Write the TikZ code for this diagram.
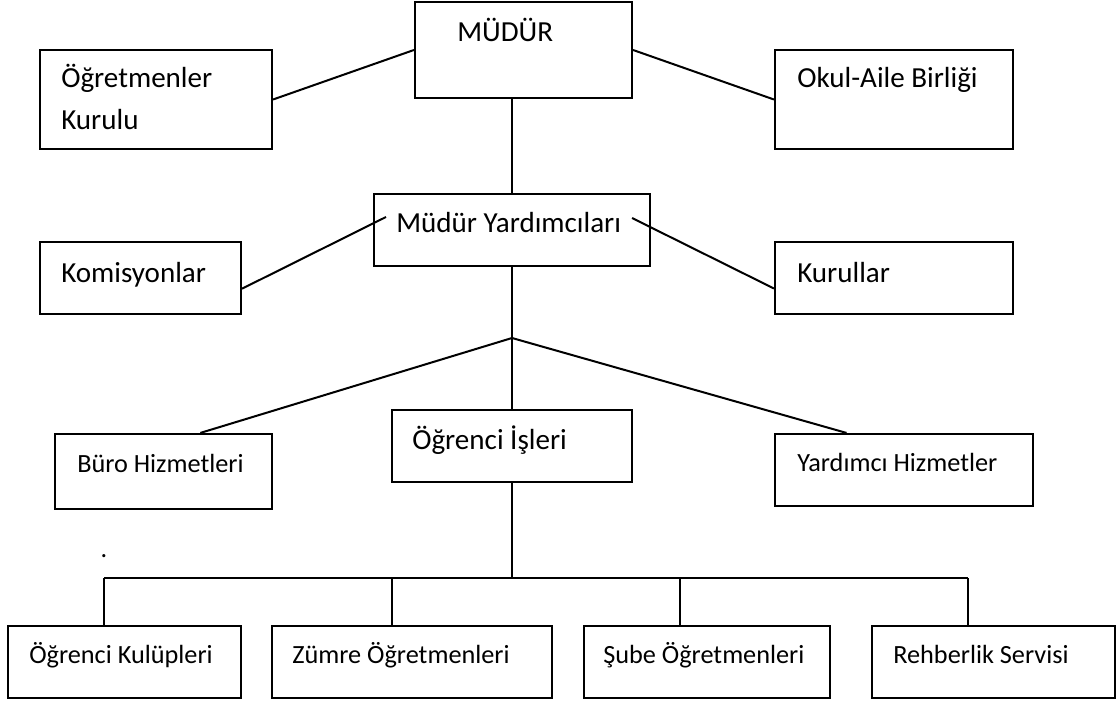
\documentclass[tikz,border=0pt]{standalone}
\usepackage{fontspec}
\setmainfont{Carlito}
\usetikzlibrary{calc}
\begin{document}
\begin{tikzpicture}[x=0.75pt,y=-0.75pt,
    kutu/.style 2 args={draw, line width=1.6pt, inner sep=0pt,
      minimum width=#1*0.75pt, minimum height=#2*0.75pt},
    yazi/.style={anchor=base west, inner sep=0pt, font=\fontsize{21.8}{26}\selectfont},
    kyazi/.style={anchor=base west, inner sep=0pt, font=\fontsize{19.7}{24}\selectfont},
    cizgi/.style={line width=1.5pt}]
      \useasboundingbox (0,0) rectangle (1117,702);
      % kutular
      \node[kutu={217}{96}] (mudur) at (523.5,50) {};
      \node[kutu={232}{99}] (ogrkurul) at (156,99.5) {};
      \node[kutu={238}{99}] (okul) at (894,99.5) {};
      \node[kutu={276}{72}] (myard) at (512,230) {};
      \node[kutu={201}{72}] (komis) at (140.5,278) {};
      \node[kutu={238}{72}] (kurul) at (894,278) {};
      \node[kutu={217}{75}] (buro) at (163.5,471.5) {};
      \node[kutu={240}{72}] (ogris) at (512,446) {};
      \node[kutu={258}{72}] (yardh) at (904,470) {};
      \node[kutu={233}{72}] (kulup) at (124.5,662) {};
      \node[kutu={280}{72}] (zumre) at (412,662) {};
      \node[kutu={246}{72}] (sube) at (707,662) {};
      \node[kutu={243}{72}] (rehber) at (993.5,662) {};
      % yazilar
      \node[yazi] (mudurY) at (457,42) {MÜDÜR};
      \node[yazi] (ogrkurulY) at (61,88) {Öğretmenler};
      \node[yazi] (ogrkurulY2) at (61,130) {Kurulu};
      \node[yazi] (okulY) at (797,88) {Okul-Aile Birliği};
      \node[yazi] (myardY) at (396,233) {Müdür Yardımcıları};
      \node[yazi] (komisY) at (61,282) {Komisyonlar};
      \node[yazi] (kurulY) at (797,282) {Kurullar};
      \node[kyazi] (buroY) at (77,472) {Büro Hizmetleri};
      \node[yazi] (ogrisY) at (412,449) {Öğrenci İşleri};
      \node[kyazi] (yardhY) at (797,471) {Yardımcı Hizmetler};
      \node[kyazi] (kulupY) at (29,663) {Öğrenci Kulüpleri};
      \node[kyazi] (zumreY) at (292,663) {Zümre Öğretmenleri};
      \node[kyazi] (subeY) at (603,663) {Şube Öğretmenleri};
      \node[kyazi] (rehberY) at (893,663) {Rehberlik Servisi};
      \node[kyazi, anchor=base] (nokta) at (104,557) {.};
      % baglantilar
      \coordinate (myardS) at (386,217);
      \coordinate (myardD) at (632,218);
      \coordinate (dal) at (512,338);
      \begin{scope}[cizgi]
        \draw (ogrkurul.east) -- (mudur.west);
        \draw (mudur.east) -- (okul.west);
        \draw (myard.north) -- (myard.north |- mudur.south);
        \draw (komis.-6) -- (myardS);
        \draw (myardD) -- (kurul.185);
        \draw (myard.south) -- (dal);
        \draw (dal) -- ($(buro.north west)!0.668!(buro.north east)$);
        \draw (dal) -- (ogris.north);
        \draw (dal) -- ($(yardh.north west)!0.279!(yardh.north east)$);
        \foreach \ad/\x in {kulup/104, zumre/392, sube/680, rehber/968}{
          \coordinate (u\ad) at (\x,578);
          \draw (u\ad) -- (u\ad |- \ad.north);
        }
        \draw (ukulup) -- (urehber);
        \draw (ogris.south) -- (ogris.south |- ukulup);
      \end{scope}
    \end{tikzpicture}
\end{document}
